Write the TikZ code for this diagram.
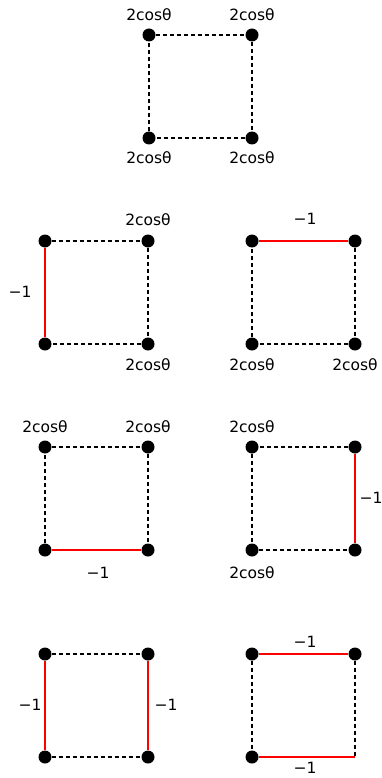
\documentclass[tikz,border=0pt]{standalone}
\usepackage{fontspec}
\setmainfont{DejaVu Sans}

\begin{document}
\begin{tikzpicture}[
  x=1pt, y=-1pt,
  every node/.style={font=\fontsize{15.5}{18}\selectfont},
  dot/.style={circle,fill,inner sep=0pt,minimum size=13pt},
  zero/.style={dash pattern=on 4pt off 3pt,line width=2.6pt},
  hop/.style={red,line width=2.6pt}
]
\useasboundingbox (0,0) rectangle (382,778);
% top square
\begin{scope}[shift={(149,35)}]
  \node[dot] (a1) at (0,0) {};   \node[dot] (a2) at (103,0) {};
  \node[dot] (a3) at (0,103) {}; \node[dot] (a4) at (103,103) {};
  \draw[zero] (a1) -- (a2) -- (a4) -- (a3) -- (a1);
  \node (a1l) at (0,-20) {2cosθ};   \node (a2l) at (103,-20) {2cosθ};
  \node (a3l) at (0,123) {2cosθ};   \node (a4l) at (103,123) {2cosθ};
\end{scope}
% second row
\begin{scope}[shift={(45,241)}]
  \node[dot] (b1) at (0,0) {};   \node[dot] (b2) at (103,0) {};
  \node[dot] (b3) at (0,103) {}; \node[dot] (b4) at (103,103) {};
  \draw[zero] (b1) -- (b2) -- (b4) -- (b3);
  \draw[hop] (b1) -- (b3);
  \node (b2l) at (103,-21) {2cosθ};  \node (b4l) at (103,124) {2cosθ};
  \node (b13l) at (-25,51) {−1};
\end{scope}
\begin{scope}[shift={(252,241)}]
  \node[dot] (c1) at (0,0) {};   \node[dot] (c2) at (103,0) {};
  \node[dot] (c3) at (0,103) {}; \node[dot] (c4) at (103,103) {};
  \draw[zero] (c2) -- (c4) -- (c3) -- (c1);
  \draw[hop] (c1) -- (c2);
  \node (c12l) at (53,-22) {−1};
  \node (c3l) at (0,124) {2cosθ};  \node (c4l) at (103,124) {2cosθ};
\end{scope}
% third row
\begin{scope}[shift={(45,447)}]
  \node[dot] (d1) at (0,0) {};   \node[dot] (d2) at (103,0) {};
  \node[dot] (d3) at (0,103) {}; \node[dot] (d4) at (103,103) {};
  \draw[zero] (d3) -- (d1) -- (d2) -- (d4);
  \draw[hop] (d3) -- (d4);
  \node (d1l) at (0,-20) {2cosθ};  \node (d2l) at (103,-20) {2cosθ};
  \node (d34l) at (53,126) {−1};
\end{scope}
\begin{scope}[shift={(252,447)}]
  \node[dot] (e1) at (0,0) {};   \node[dot] (e2) at (103,0) {};
  \node[dot] (e3) at (0,103) {}; \node[dot] (e4) at (103,103) {};
  \draw[zero] (e2) -- (e1) -- (e3) -- (e4);
  \draw[hop] (e2) -- (e4);
  \node (e1l) at (0,-20) {2cosθ};  \node (e3l) at (0,126) {2cosθ};
  \node (e24l) at (119,51) {−1};
\end{scope}
% fourth row
\begin{scope}[shift={(45,654)}]
  \node[dot] (f1) at (0,0) {};   \node[dot] (f2) at (103,0) {};
  \node[dot] (f3) at (0,103) {}; \node[dot] (f4) at (103,103) {};
  \draw[zero] (f1) -- (f2);
  \draw[zero] (f3) -- (f4);
  \draw[hop] (f1) -- (f3);
  \draw[hop] (f2) -- (f4);
  \node (f13l) at (-15,51) {−1};  \node (f24l) at (121,51) {−1};
\end{scope}
\begin{scope}[shift={(252,654)}]
  \node[dot] (g1) at (0,0) {};   \node[dot] (g2) at (103,0) {};
  \node[dot] (g3) at (0,103) {}; \coordinate (g4) at (103,103);
  \draw[zero] (g1) -- (g3);
  \draw[zero] (g2) -- (g4);
  \draw[hop] (g1) -- (g2);
  \draw[hop] (g3) -- (g4);
  \node (g12l) at (53,-12) {−1};  \node (g34l) at (53,114) {−1};
\end{scope}
\end{tikzpicture}
\end{document}
